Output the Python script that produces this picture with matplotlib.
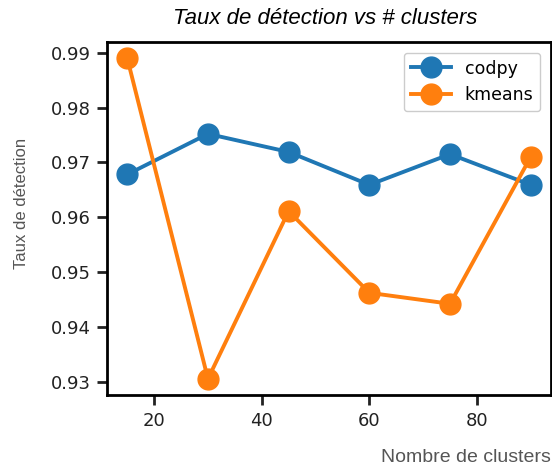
import matplotlib
matplotlib.use("Agg")
import matplotlib.pyplot as plt

# donnees
n_clusters = [15, 30, 45, 60, 75, 90]
codpy = [0.9678, 0.9752, 0.9719, 0.9659, 0.9715, 0.9659]
kmeans = [0.9890, 0.9305, 0.9611, 0.9462, 0.9442, 0.9710]
yticks = [0.93, 0.94, 0.95, 0.96, 0.97, 0.98, 0.99]
xticks = [20, 40, 60, 80]

fig = plt.figure(figsize=(5.52, 4.69), dpi=100)
ax = fig.add_axes([0.194, 0.158, 0.804, 0.752])

ax.plot(n_clusters, codpy, "-o", color="#1f77b4", lw=2.8, ms=15, label="codpy")
ax.plot(n_clusters, kmeans, "-o", color="#ff7f0e", lw=2.8, ms=15, label="kmeans")

ax.set_yticks(yticks)
ax.set_yticklabels([f"{v:.2f}" for v in yticks])
ax.set_xticks(xticks)
ax.tick_params(labelsize=13, length=7, width=2, pad=5, colors="#222222")
for s in ax.spines.values():
    s.set_linewidth(2)

ax.legend(loc="upper right", fontsize=12.5, markerscale=1.0, handlelength=2.3,
          framealpha=1, edgecolor="#cccccc", borderaxespad=0.6)

fig.text(325 / 552, 1 - 18 / 469, "Taux de détection vs # clusters",
         ha="center", va="center", fontsize=16, style="italic",
         family="Liberation Sans")
fig.text(22 / 552, 1 - 203 / 469, "Taux de détection", rotation=90,
         ha="center", va="center", fontsize=12, color="#555555",
         family="Liberation Sans")
fig.text(551 / 552, 1 - 457 / 469, "Nombre de clusters",
         ha="right", va="center", fontsize=14, color="#555555",
         family="Liberation Sans")

fig.savefig("out.png", dpi=100)
